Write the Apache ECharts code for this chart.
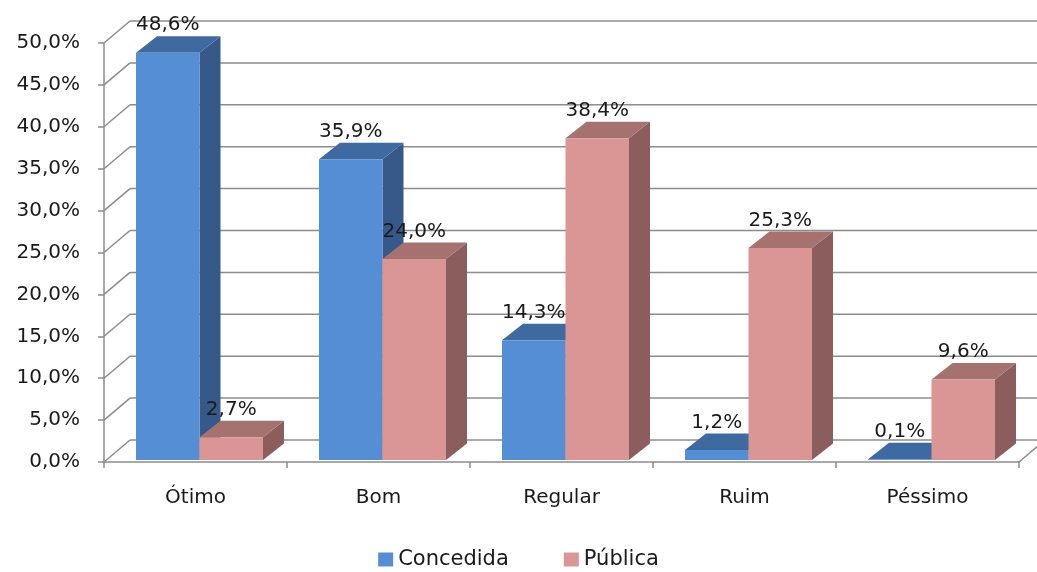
<!DOCTYPE html>
<html>
<head>
<meta charset="utf-8">
<script src="https://cdn.jsdelivr.net/npm/echarts@6/dist/echarts.min.js"></script>
<style>
  html, body { margin: 0; padding: 0; background: #fff; }
  #chart { width: 1037px; height: 572px; }
</style>
</head>
<body>
<div id="chart"></div>
<script>
// Chart data
const categories = ['Ótimo', 'Bom', 'Regular', 'Ruim', 'Péssimo'];
const concedida = [48.6, 35.9, 14.3, 1.2, 0.1];
const publica = [2.7, 24.0, 38.4, 25.3, 9.6];
const yTicks = [0, 5, 10, 15, 20, 25, 30, 35, 40, 45, 50];
const yTickLabels = ['0,0%', '5,0%', '10,0%', '15,0%', '20,0%', '25,0%', '30,0%', '35,0%', '40,0%', '45,0%', '50,0%'];

// Pseudo-3D geometry (pixel offsets for depth)
const WALL = [26, -22];      // back wall offset from front plane
const FRONT = [4, -2];       // bar front face offset from front plane
const DEPTH = [21, -16.5];   // bar depth
const BAR_FRAC = 0.347;      // bar width as share of the category band
const FONT = 'DejaVu Sans';
const GRID_COLOR = '#8c8c8c';

const palette = {
  Concedida: { front: '#558ED5', top: '#3F6A9F', side: '#36598A' },
  'Pública': { front: '#D99694', top: '#A57270', side: '#8B5E5D' }
};

function fmtPct(v) {
  return v.toFixed(1).replace('.', ',') + '%';
}

function barRenderer(name, left) {
  const col = palette[name];
  return function (params, api) {
    const i = api.value(0), v = api.value(1);
    const top = api.coord([i, v]);
    const base = api.coord([i, 0]);
    const bw = api.size([1, 0])[0] * BAR_FRAC;
    const x0 = top[0] + FRONT[0] - (left ? bw : 0);
    const x1 = x0 + bw;
    const yT = top[1] + FRONT[1];
    const yB = base[1] + FRONT[1];
    const dx = DEPTH[0], dy = DEPTH[1];
    return {
      type: 'group',
      children: [
        { type: 'polygon', shape: { points: [[x1, yT], [x1 + dx, yT + dy], [x1 + dx, yB + dy], [x1, yB]] }, style: { fill: col.side } },
        { type: 'polygon', shape: { points: [[x0, yT], [x1, yT], [x1 + dx, yT + dy], [x0 + dx, yT + dy]] }, style: { fill: col.top } },
        { type: 'polygon', shape: { points: [[x0, yT], [x1, yT], [x1, yB], [x0, yB]] }, style: { fill: col.front } },
        {
          type: 'text', z2: 100,
          style: {
            x: (x0 + x1) / 2, y: yT + dy - 1,
            text: fmtPct(v), align: 'center', verticalAlign: 'bottom',
            fill: '#1a1a1a', font: '20px "' + FONT + '"'
          }
        }
      ]
    };
  };
}

// Side wall diagonals and back wall gridlines
function frameRenderer(params, api) {
  const v = api.value(1);
  const cs = params.coordSys;
  const p = api.coord([0, v]);
  const xl = cs.x, xr = cs.x + cs.width;
  const y = p[1];
  const lineStyle = { stroke: GRID_COLOR, lineWidth: 1.5 };
  const children = [
    { type: 'line', shape: { x1: xl, y1: y, x2: xl + WALL[0], y2: y + WALL[1] }, style: lineStyle },
    { type: 'line', shape: { x1: xl + WALL[0], y1: y + WALL[1], x2: xr + WALL[0], y2: y + WALL[1] }, style: lineStyle }
  ];
  if (v === 0) {
    children.push({ type: 'line', shape: { x1: xr, y1: y, x2: xr + WALL[0], y2: y + WALL[1] }, style: lineStyle });
  }
  return { type: 'group', children: children };
}

const chart = echarts.init(document.getElementById('chart'), null, { renderer: 'canvas' });
chart.setOption({
  animation: false,
  backgroundColor: '#ffffff',
  textStyle: { fontFamily: FONT },
  grid: { left: 104, right: 18, top: 43, bottom: 110, containLabel: false },
  legend: {
    data: ['Concedida', 'Pública'],
    top: 544,
    left: 'center',
    icon: 'rect',
    itemWidth: 15,
    itemHeight: 14,
    itemGap: 55,
    textStyle: { fontSize: 21, color: '#1a1a1a', fontFamily: FONT }
  },
  xAxis: {
    type: 'category',
    data: categories,
    axisLine: { show: true, lineStyle: { color: GRID_COLOR, width: 1.5 } },
    axisTick: { show: true, alignWithLabel: false, length: 6, lineStyle: { color: GRID_COLOR, width: 1.5 } },
    axisLabel: { fontSize: 20, color: '#1a1a1a', margin: 26, fontFamily: FONT },
    splitLine: { show: false }
  },
  yAxis: {
    type: 'value',
    min: 0, max: 50, interval: 5,
    axisLine: { show: true, lineStyle: { color: GRID_COLOR, width: 1.5 } },
    axisTick: { show: true, length: 6, lineStyle: { color: GRID_COLOR, width: 1.5 } },
    axisLabel: {
      fontSize: 20, color: '#1a1a1a', margin: 24, fontFamily: FONT,
      formatter: function (v) { const k = yTicks.indexOf(v); return k >= 0 ? yTickLabels[k] : ''; }
    },
    splitLine: { show: false }
  },
  series: [
    {
      type: 'custom', name: 'frame', z: 1, silent: true,
      renderItem: frameRenderer,
      data: yTicks.map(function (v) { return [0, v]; }),
      encode: { x: 0, y: 1 }
    },
    {
      type: 'custom', name: 'Concedida', z: 3,
      itemStyle: { color: palette.Concedida.front },
      renderItem: barRenderer('Concedida', true),
      data: concedida.map(function (v, i) { return [i, v]; }),
      encode: { x: 0, y: 1 }
    },
    {
      type: 'custom', name: 'Pública', z: 4,
      itemStyle: { color: palette['Pública'].front },
      renderItem: barRenderer('Pública', false),
      data: publica.map(function (v, i) { return [i, v]; }),
      encode: { x: 0, y: 1 }
    }
  ]
});
</script>
</body>
</html>
